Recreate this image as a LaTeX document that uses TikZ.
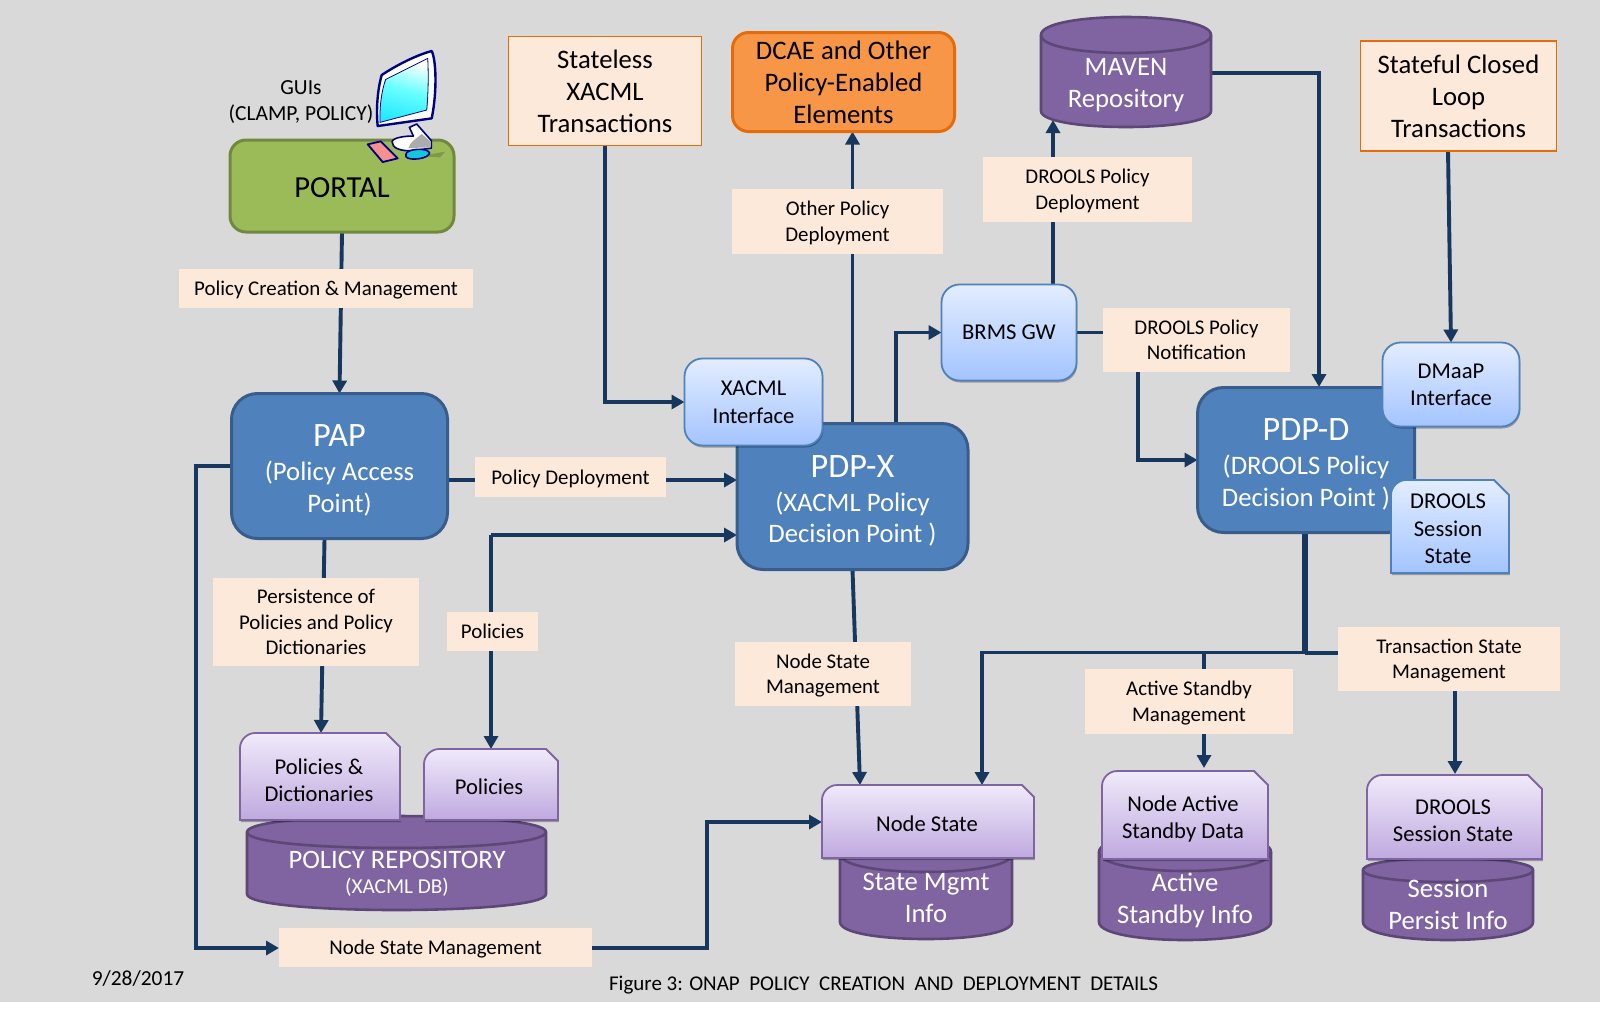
\documentclass[tikz,border=0pt]{standalone}
\usepackage{fontspec}
\setmainfont{Carlito}
\usetikzlibrary{arrows.meta,shadows}
\definecolor{bgG}{HTML}{D9D9D9}
\definecolor{lineB}{HTML}{17375E}
\definecolor{blueF}{HTML}{4F81BD}
\definecolor{blueD}{HTML}{385D8A}
\definecolor{greenF}{HTML}{9BBB59}
\definecolor{greenD}{HTML}{71893F}
\definecolor{purF}{HTML}{8064A2}
\definecolor{purD}{HTML}{5C4776}
\definecolor{labF}{HTML}{FDE9D9}
\definecolor{orF}{HTML}{F79646}
\definecolor{orD}{HTML}{E46C0A}
\definecolor{ltT}{HTML}{E3EDFF}
\definecolor{ltB}{HTML}{A3C4FF}
\definecolor{lpT}{HTML}{F0EAFA}
\definecolor{lpB}{HTML}{BFA9DF}
\definecolor{pinkK}{HTML}{F4908E}
\definecolor{cyanM}{HTML}{12C6DC}
\pgfdeclarelayer{bglayer}
\pgfdeclarelayer{connlayer}
\pgfsetlayers{bglayer,connlayer,main}
\newcommand\fpx[2]{\fontsize{#1}{#2}\selectfont}
\newcommand\pf{\fpx{13.35}{15.8}}
\newcommand\hd{\fpx{17.1}{19}}
% text with fixed top and bottom clearances, so it centres on its capitals
\newcommand\tl[1]{\rule{0pt}{\topH}#1\rule[-\botD]{0pt}{\botD}}
\newcommand\clr[2]{\def\topH{#1}\def\botD{#2}}
\tikzset{
  wh/.style 2 args={minimum width=#1*0.5pt,minimum height=#2*0.5pt},
  base/.style={inner sep=0pt,outer sep=0pt,align=center},
  lab/.style={base,fill=labF,font=\fpx{10.45}{12.75}\clr{9.6pt}{2.4pt}},
  ordbox/.style={base,fill=labF,draw=orD,line width=0.8pt,font=\fpx{13.35}{16}\clr{12pt}{2.6pt}},
  bigblue/.style={base,fill=blueF,draw=blueD,line width=1.5pt,rounded corners=13pt,text=white,font=\pf\clr{16pt}{2.4pt}},
  ltbox/.style={base,draw=blueF,line width=0.9pt,top color=ltT,bottom color=ltB,rounded corners=9pt,font=\fpx{11.3}{13.8}\clr{9.8pt}{2.4pt},
     drop shadow={shadow xshift=0.4pt,shadow yshift=-1pt,opacity=0.3,fill=black}},
  docblue/.style={draw=blueF,line width=0.9pt,top color=ltT,bottom color=ltB,
     drop shadow={shadow xshift=0.4pt,shadow yshift=-1pt,opacity=0.3,fill=black}},
  docpur/.style={draw=purF,line width=0.9pt,top color=lpT,bottom color=lpB,
     drop shadow={shadow xshift=0.4pt,shadow yshift=-1pt,opacity=0.3,fill=black}},
  doctext/.style={base,font=\fpx{11.3}{13.7}},
  cyltext/.style={base,text=white,font=\fpx{13.35}{15.9}},
  conn/.style={draw=lineB,line width=1.95pt,-{Triangle[width=7pt,length=6.5pt]}},
  connplain/.style={draw=lineB,line width=1.95pt},
}
% cylinder: x1 x2 ytop ybottom rtop rbottom
\newcommand\cylshape[6]{%
  \pgfmathsetmacro\cyA{#3+#5}\pgfmathsetmacro\cyB{#4-#6}%
  \pgfmathsetmacro\cyC{#3+#5-1.333*#5}\pgfmathsetmacro\cyD{#3+#5+1.333*#5}\pgfmathsetmacro\cyE{#4-#6+1.333*#6}%
  \path[fill=purF,draw=purD,line width=1.3pt] (#1,\cyA) .. controls (#1,\cyC) and (#2,\cyC) .. (#2,\cyA) -- (#2,\cyB) .. controls (#2,\cyE) and (#1,\cyE) .. (#1,\cyB) -- cycle;
  \draw[purD,line width=1.3pt] (#1,\cyA) .. controls (#1,\cyD) and (#2,\cyD) .. (#2,\cyA);
}
% document: style x1 x2 y1 y2 snip
\newcommand\docshape[6]{%
  \pgfmathsetmacro\dA{#4+15}\pgfmathsetmacro\dB{#4+7}\pgfmathsetmacro\dC{#2+7}\pgfmathsetmacro\dD{#2+15}%
  \pgfmathsetmacro\dE{#3-#6}\pgfmathsetmacro\dF{#4+#6}%
  \path[#1] (#2,#5) -- (#2,\dA) .. controls (#2,\dB) and (\dC,#4) .. (\dD,#4) -- (\dE,#4) -- (#3,\dF) -- (#3,#5) -- cycle;
}
\begin{document}
\begin{tikzpicture}[x=0.5pt,y=-0.5pt]
\useasboundingbox (0,0) rectangle (1600,1009);
\begin{pgfonlayer}{bglayer}
  \fill[white] (0,0) rectangle (1600,1009);
  \fill[bgG] (0,0) rectangle (1600,1001.5);
\end{pgfonlayer}

% cylinders
\cylshape{1041}{1211}{17}{127}{18}{16}
\node[cyltext] (maven) at (1126,85) {MAVEN\\Repository};
\cylshape{247}{546}{816}{910}{16}{16}
\node[base,text=white] (repo) at (397,873.5) {\fpx{13.3}{15}POLICY REPOSITORY\\[0.4pt]\fpx{10.6}{13}(XACML DB)};
\cylshape{840}{1012}{836}{939}{18}{17}
\node[cyltext] (stmgmt) at (926,898) {State Mgmt\\Info};
\cylshape{1099}{1271}{833}{940}{19}{18}
\node[cyltext] (actinfo) at (1185,900) {Active\\Standby Info};
\cylshape{1363}{1533}{858}{940}{12}{18}
\node[cyltext] (persist) at (1448,904) {Session\\Persist Info};

% main boxes
\node[base,wh={224}{92},fill=greenF,draw=greenD,line width=1.5pt,rounded corners=8pt,font=\fpx{15.3}{17}\clr{13.5pt}{1.8pt}] (portal) at (342,186) {\tl{PORTAL}};
\node[bigblue,wh={216}{145}] (pap) at (339.5,466) {\tl{\hd PAP\\[1.1pt]\pf(Policy Access\\\pf Point)}};
\node[bigblue,wh={231}{146}] (pdpx) at (852.5,496.5) {\tl{\hd PDP-X\\[1.1pt]\pf(XACML Policy\\\pf Decision Point )}};
\node[bigblue,wh={217}{145}] (pdpd) at (1306,460) {\tl{\hd PDP-D\\[1.1pt]\pf(DROOLS Policy\\\pf Decision Point )}};
\node[base,wh={222}{99},fill=orF,draw=orD,line width=1.5pt,rounded corners=8pt,font=\fpx{13.35}{16}\clr{12pt}{2.6pt}] (dcae) at (843.5,82) {\tl{DCAE and Other\\Policy-Enabled\\Elements}};
\node[ordbox,wh={193}{109}] (stateless) at (605,91) {\tl{Stateless\\XACML\\Transactions}};
\node[ordbox,wh={196}{110}] (stateful) at (1458.5,96) {\tl{Stateful Closed\\Loop\\Transactions}};
\node[ltbox,wh={138}{87}] (xacml) at (753.5,402) {\tl{XACML\\Interface}};
\node[ltbox,wh={135}{96}] (brms) at (1009,332.5) {\tl{BRMS GW}};
\node[ltbox,wh={137}{84}] (dmaap) at (1451,384.5) {\tl{DMaaP\\Interface}};

% documents
\docshape{docblue}{1391}{1509}{480}{573}{15}
\node[doctext] (dsess) at (1448,529) {DROOLS\\Session\\State};
\docshape{docpur}{240}{400}{733}{820}{14}
\node[doctext] (dict) at (319,780) {Policies \&\\Dictionaries};
\docshape{docpur}{424}{558}{749}{820}{12}
\node[doctext] (pol) at (489,787) {Policies};
\docshape{docpur}{822}{1034}{785}{858}{12}
\node[doctext] (nstate) at (927,824) {Node State};
\docshape{docpur}{1102}{1268}{771}{859}{14}
\node[doctext] (nactive) at (1183,819) {Node Active\\Standby Data};
\docshape{docpur}{1367}{1542}{775}{859}{14}
\node[doctext] (dsess2) at (1453,820.5) {DROOLS\\Session State};

% labels
\node[lab,wh={294}{39}] (lcreat) at (326,288.5) {\tl{Policy Creation \& Management}};
\node[lab,wh={211}{65}] (lother) at (837.5,221.5) {\tl{Other Policy\\Deployment}};
\node[lab,wh={209}{65}] (ldep) at (1087.5,189.5) {\tl{DROOLS Policy\\Deployment}};
\node[lab,wh={187}{64}] (lnot) at (1196.5,340) {\tl{DROOLS Policy\\Notification}};
\node[lab,wh={191}{40}] (ldeploy) at (570.5,477) {\tl{Policy Deployment}};
\node[lab,wh={206}{88}] (lpers) at (316,622) {\tl{Persistence of\\Policies and Policy\\Dictionaries}};
\node[lab,wh={91}{39}] (lpol) at (492.5,631.5) {\tl{Policies}};
\node[lab,wh={176}{64}] (lnsm) at (823,674) {\tl{Node State\\Management}};
\node[lab,wh={313}{39}] (lnsm2) at (435.5,947.5) {\tl{Node State Management}};
\node[lab,wh={208}{65}] (lact) at (1189,701.5) {\tl{Active Standby\\Management}};
\node[lab,wh={222}{64}] (ltrans) at (1449,659) {\tl{Transaction State\\Management}};

% free texts
\node[base,font=\fpx{10.75}{13}] (gui) at (301,102) {GUIs\\(CLAMP, POLICY)};
\node[base,font=\fpx{10.7}{13}] (date) at (138,979) {9/28/2017};
\node[base,font=\fpx{10.5}{13}] (cap) at (883.5,985) {Figure 3: ONAP\ \ POLICY\ \ CREATION\ \ AND\ \ DEPLOYMENT\ \ DETAILS};

% computer icon
\begin{scope}[shift={(200,30)},x=0.1667pt,y=-0.1667pt]
  \fill[greenD!70!greenF] (660,378) -- (735,365) -- (720,382) -- cycle;
  \filldraw[fill=white,draw=blue!50!black,line width=0.8pt,line join=round] (628,292) -- (650,282) -- (694,332) -- (694,354) -- (640,362) .. controls (600,364) and (576,354) .. (576,335) .. controls (580,322) and (615,318) .. (640,318) -- cycle;
  \fill[gray!65] (625,354) .. controls (630,335) and (650,325) .. (665,312) -- (692,335) -- (692,352) -- cycle;
  \filldraw[fill=white,draw=blue!50!black,line width=1.2pt,line join=round] (533,288) .. controls (528,240) and (532,180) .. (545,135) .. controls (590,105) and (650,75) .. (695,63) .. controls (708,90) and (712,180) .. (695,265) -- cycle;
  \path[draw=blue!50!black,line width=0.4pt,top color=white,bottom color=cyan!90!blue!85,middle color=cyan!60,shading angle=-15] (540,277) .. controls (538,230) and (545,180) .. (557,148) -- (683,85) .. controls (686,140) and (684,200) .. (680,240) -- cycle;
  \filldraw[fill=cyanM,draw=blue!50!black,line width=0.8pt] (618,372) .. controls (620,356) and (682,352) .. (688,368) .. controls (690,386) and (626,394) .. (618,380) -- cycle;
  \filldraw[fill=pinkK,draw=blue!50!black,line width=0.9pt,line join=round] (503,343) -- (542,334) -- (593,385) -- (548,396) -- cycle;
\end{scope}

% connector helpers
\coordinate (papDn) at (324.5,539);
\coordinate (dictTop) at (321,733);
\coordinate (depY) at (448,480);
\coordinate (polCorner) at (491,535);
\coordinate (polTop) at (491,749);
\coordinate (papBus) at (196,466);
\coordinate (busBot) at (196,948);
\coordinate (nsmUp) at (707,948);
\coordinate (nsCorner) at (707,822);
\coordinate (nsIn) at (822,822);
\coordinate (statelessCorner) at (605,402);
\coordinate (notCorner) at (1138,332.5);
\coordinate (notBot) at (1138,460);
\coordinate (brmsCorner) at (896,332.5);
\coordinate (mavBot) at (1053,120);
\coordinate (mavR) at (1212,73);
\coordinate (mavCorner) at (1319,73);
\coordinate (pdpdTop) at (1319,387);
\coordinate (nsmIn) at (860,785);
\coordinate (dDown) at (1305,533);
\coordinate (dJoin) at (1305,652.5);
\coordinate (dLeft) at (982,652.5);
\coordinate (dTipN) at (982,785);
\coordinate (actTop) at (1204,652.5);
\coordinate (actTip) at (1204,768);
\coordinate (trCorner) at (1455,653);
\coordinate (trTip) at (1455,774);
\coordinate (sfOut) at (1448,151);

\begin{pgfonlayer}{connlayer}
  \draw[conn] (portal.south) -- (pap.north);
  \draw[conn] (depY) -- (pdpx.west |- depY);
  \draw[conn] (papDn) -- (dictTop);
  \draw[conn] (polCorner) -- (pdpx.west |- polCorner);
  \draw[conn] (polCorner) -- (polTop);
  \draw[conn] (pap.west) -- (papBus) -- (busBot) -- (lnsm2.west |- busBot);
  \draw[conn] (lnsm2.east |- busBot) -- (nsmUp) -- (nsCorner) -- (nsIn);
  \draw[conn] (stateless.south) -- (statelessCorner) -- (xacml.west |- statelessCorner);
  \draw[conn] (pdpx.north) -- (pdpx.north |- dcae.south);
  \draw[conn] (pdpx.north -| brmsCorner) -- (brmsCorner) -- (brms.west);
  \draw[conn] (brms.north -| mavBot) -- (mavBot);
  \draw[conn] (brms.east) -- (notCorner) -- (notBot) -- (pdpd.west |- notBot);
  \draw[conn] (mavR) -- (mavCorner) -- (pdpdTop);
  \draw[conn] (sfOut) -- (dmaap.north);
  \draw[conn] (pdpx.south) -- (nsmIn);
  \draw[connplain,line width=3.4pt] (dDown) -- (dJoin);
  \draw[conn] (dJoin) -- (dLeft) -- (dTipN);
  \draw[conn] (actTop) -- (actTip);
  \draw[conn] (dJoin |- trCorner) -- (trCorner) -- (trTip);
\end{pgfonlayer}
\end{tikzpicture}
\end{document}
